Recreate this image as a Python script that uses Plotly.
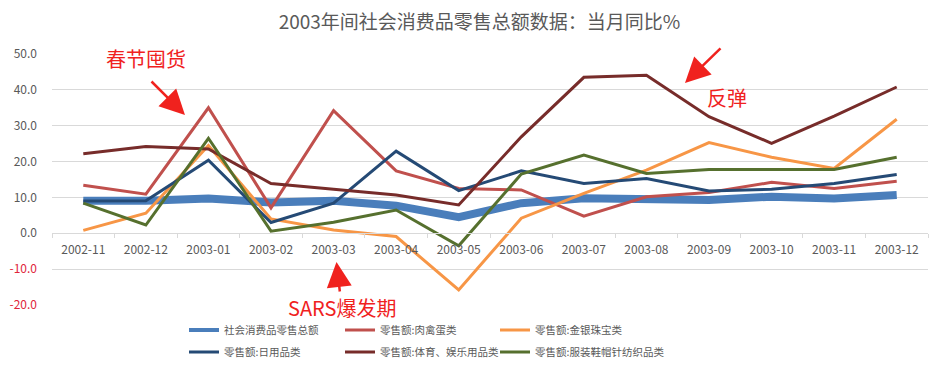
import plotly.graph_objects as go

months = ["2002-11", "2002-12", "2003-01", "2003-02", "2003-03", "2003-04", "2003-05",
          "2003-06", "2003-07", "2003-08", "2003-09", "2003-10", "2003-11", "2003-12"]
total = [9.1, 9.1, 9.7, 8.6, 9.1, 7.7, 4.5, 8.4, 9.8, 9.8, 9.3, 10.2, 9.7, 10.7]
meat = [13.4, 10.9, 35.0, 7.1, 34.2, 17.4, 12.5, 12.1, 4.8, 10.2, 11.4, 14.2, 12.5, 14.5]
gold = [0.8, 5.6, 24.5, 4.0, 0.9, -0.9, -15.8, 4.2, 11.1, 17.6, 25.3, 21.2, 18.1, 31.8]
daily = [9.0, 9.1, 20.4, 3.0, 8.4, 22.9, 11.9, 17.4, 13.9, 15.3, 11.8, 12.3, 13.9, 16.4]
sports = [22.2, 24.2, 23.5, 13.9, 12.3, 10.7, 7.9, 26.9, 43.5, 44.1, 32.5, 25.1, 32.7, 40.8]
apparel = [8.4, 2.3, 26.5, 0.6, 3.1, 6.5, -3.5, 16.5, 21.8, 16.7, 17.8, 17.8, 17.8, 21.2]

names = ["社会消费品零售总额", "零售额:肉禽蛋类", "零售额:金银珠宝类",
         "零售额:日用品类", "零售额:体育、娱乐用品类", "零售额:服装鞋帽针纺织品类"]
series = [total, meat, gold, daily, sports, apparel]
colors = ["#4a7ebb", "#c0504d", "#f79646", "#254a75", "#772c2a", "#56702e"]
widths = [8, 3, 3, 3, 3, 3]
legend_widths = [4, 3, 3, 3, 3, 3]

ytick_vals = [-20, -10, 0, 10, 20, 30, 40, 50]
ytick_text = ['<span style="color:#e0243a">-20.0</span>', '<span style="color:#e0243a">-10.0</span>',
              "0.0", "10.0", "20.0", "30.0", "40.0", "50.0"]

FONT = "Noto Sans CJK SC"
GRAY = "#595959"

# page is rendered with an 8px body margin; work in page pixels and shift
OFF = 8
PAGE_W, PAGE_H = 941, 372
W, H = PAGE_W - OFF, PAGE_H - OFF
PL, PR, PT, PB = 52, 928, 54, 305          # plot area in page pixels
L, T = PL - OFF, PT - OFF
R, B = W - (PR - OFF), H - (PB - OFF)
pw, ph = PR - PL, PB - PT


def px2paper(x, y):
    return (x - PL) / pw, (PB - y) / ph


def cx(x):
    return (x - OFF) / W


def cy(y):
    return 1 - (y - OFF) / H


fig = go.Figure()
for name, vals, c, w in zip(names, series, colors, widths):
    fig.add_trace(go.Scatter(x=months, y=vals, mode="lines", name=name,
                             line=dict(color=c, width=w), showlegend=False,
                             hoverinfo="x+y+name"))

# legend entries: one legend per entry, placed in a 3 x 2 grid (page pixels)
legend_text_x = [224, 380, 535]
legend_row_y = [330, 352]
layout_legends = {}
for i, (name, c, w) in enumerate(zip(names, colors, legend_widths)):
    lid = "legend" if i == 0 else f"legend{i + 1}"
    fig.add_trace(go.Scatter(x=[None], y=[None], mode="lines", name=name,
                             line=dict(color=c, width=w), legend=lid, showlegend=True))
    col, row = i % 3, i // 3
    layout_legends[lid] = dict(
        orientation="v", x=cx(legend_text_x[col] - 40), xref="container", xanchor="left",
        y=cy(legend_row_y[row]), yref="container", yanchor="middle",
        font=dict(family=FONT, size=10.5, color=GRAY), bgcolor="rgba(0,0,0,0)")

annos = []
RED = "#f0221e"
for text, (tx, ty) in [("春节囤货", (146, 58)), ("SARS爆发期", (342, 307)), ("反弹", (727, 97))]:
    xp, yp = px2paper(tx, ty)
    annos.append(dict(text=text, x=xp, y=yp, xref="paper", yref="paper", showarrow=False,
                      font=dict(family=FONT, size=20, color=RED), xanchor="center", yanchor="middle"))
for (tx, ty), (sx, sy) in [((185, 115), (150, 80)), ((336.5, 262), (340, 293)), ((685, 83), (722, 47))]:
    xp, yp = px2paper(tx, ty)
    annos.append(dict(text="", x=xp, y=yp, xref="paper", yref="paper", showarrow=True,
                      ax=sx - tx, ay=sy - ty, arrowcolor=RED, arrowwidth=2.5, arrowhead=2,
                      arrowsize=2, standoff=0, startstandoff=0))

fig.update_layout(
    width=W, height=H,
    margin=dict(l=L, r=R, t=T, b=B, autoexpand=False),
    paper_bgcolor="white", plot_bgcolor="white",
    font=dict(family=FONT, color=GRAY, size=12),
    title=dict(text="2003年间社会消费品零售总额数据：当月同比%", x=cx(479.5), xanchor="center",
               y=cy(22), yanchor="middle", yref="container",
               font=dict(family=FONT, size=19, color=GRAY)),
    xaxis=dict(type="category", anchor="free", position=20 / 70, showgrid=False,
               showline=True, linecolor="#d9d9d9", linewidth=1, ticks="outside",
               tickson="boundaries", ticklen=4, tickcolor="#d9d9d9",
               tickfont=dict(family=FONT, size=12, color=GRAY), ticklabelstandoff=5,
               range=[-0.5, 13.5], fixedrange=True, automargin=False),
    yaxis=dict(range=[-20, 50], tickvals=ytick_vals, ticktext=ytick_text, showgrid=True,
               gridcolor="#d9d9d9", gridwidth=1, zeroline=False, showline=False,
               tickfont=dict(family=FONT, size=12, color=GRAY), ticklabelstandoff=14,
               automargin=False),
    annotations=annos,
    showlegend=True,
    **layout_legends,
)

fig.write_html("out.html")
